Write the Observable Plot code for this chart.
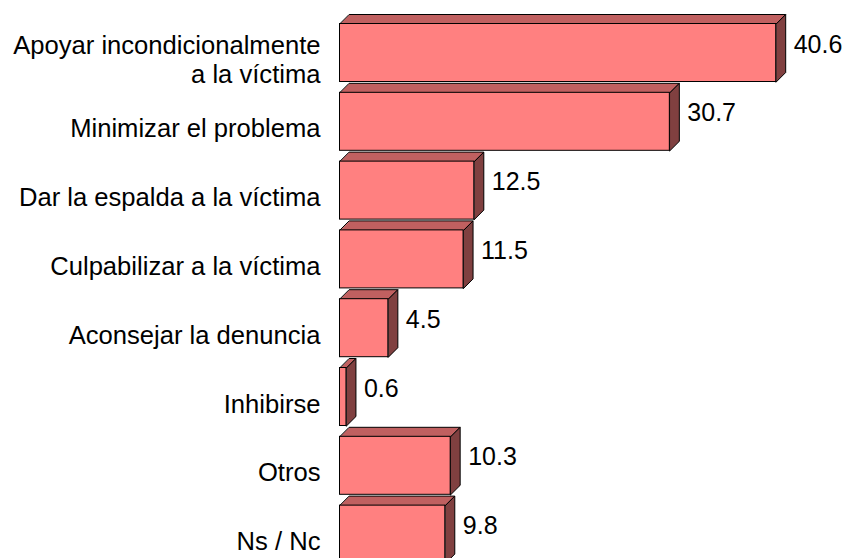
<!DOCTYPE html>
<html>
<head>
<meta charset="utf-8">
<script src="https://cdn.jsdelivr.net/npm/d3@7"></script>
<script src="https://cdn.jsdelivr.net/npm/@observablehq/plot@0.6"></script>
<style>
  html, body { margin: 0; padding: 0; background: white; overflow: hidden; }
</style>
</head>
<body>
<div id="chart"></div>
<script>
const categories = [
  "Apoyar incondicionalmente\na la víctima",
  "Minimizar el problema",
  "Dar la espalda a la víctima",
  "Culpabilizar a la víctima",
  "Aconsejar la denuncia",
  "Inhibirse",
  "Otros",
  "Ns / Nc"
];
const values = [40.6, 30.7, 12.5, 11.5, 4.5, 0.6, 10.3, 9.8];
const valueLabels = ["40.6", "30.7", "12.5", "11.5", "4.5", "0.6", "10.3", "9.8"];

// geometry helpers (pixel-based styling converted to scale units)
const X0 = 339.5, X1 = 775.7;             // x range for [0, 40.6]
const Y0 = 52.5, Y7 = 534.1;              // y range for bar index 0..7
const kx = (X1 - X0) / 40.6;
const ky = (Y7 - Y0) / 7;
const h = 29 / ky;                        // half bar height (units)
const ex = 9.5 / kx, ey = 9.5 / ky;       // 3D depth (units)

const bars = categories.map((c, i) => ({i, c, v: values[i], label: valueLabels[i]}));
const topFaces = bars.flatMap(d => [
  {id: d.i, x: 0, y: d.i - h},
  {id: d.i, x: d.v, y: d.i - h},
  {id: d.i, x: d.v + ex, y: d.i - h - ey},
  {id: d.i, x: ex, y: d.i - h - ey}
]);
const sideFaces = bars.flatMap(d => [
  {id: d.i, x: d.v, y: d.i - h},
  {id: d.i, x: d.v + ex, y: d.i - h - ey},
  {id: d.i, x: d.v + ex, y: d.i + h - ey},
  {id: d.i, x: d.v, y: d.i + h}
]);

const chart = Plot.plot({
  width: 846,
  height: 558,
  marginLeft: 339.5,
  marginRight: 0,
  marginTop: 0,
  marginBottom: 0,
  style: {background: "white", fontFamily: "'Liberation Sans', Arial, sans-serif", fontSize: "25px", color: "black"},
  x: {domain: [0, 40.6], range: [X0, X1], axis: null},
  y: {domain: [0, 7], range: [Y0, Y7], axis: null},
  marks: [
    Plot.axisY({
      ticks: d3.range(categories.length),
      tickFormat: i => categories[i],
      tickSize: 0,
      tickPadding: 19.5,
      fontSize: 25.6,
      lineHeight: 1.1,
      dy: 6.5,
      fill: "black"
    }),
    Plot.line(topFaces, {x: "x", y: "y", z: "id", curve: "linear-closed", fill: "#C06060", stroke: "black", strokeWidth: 1, strokeLinejoin: "miter"}),
    Plot.line(sideFaces, {x: "x", y: "y", z: "id", curve: "linear-closed", fill: "#804040", stroke: "black", strokeWidth: 1, strokeLinejoin: "miter"}),
    Plot.rect(bars, {x1: 0, x2: "v", y1: d => d.i - h, y2: d => d.i + h, fill: "#FF8080", stroke: "black", strokeWidth: 1}),
    Plot.text(bars, {x: "v", y: "i", text: "label", dx: 17.5, dy: -8.5, textAnchor: "start", fontSize: 25, fill: "black"})
  ]
});
document.getElementById("chart").appendChild(chart);
</script>
</body>
</html>
